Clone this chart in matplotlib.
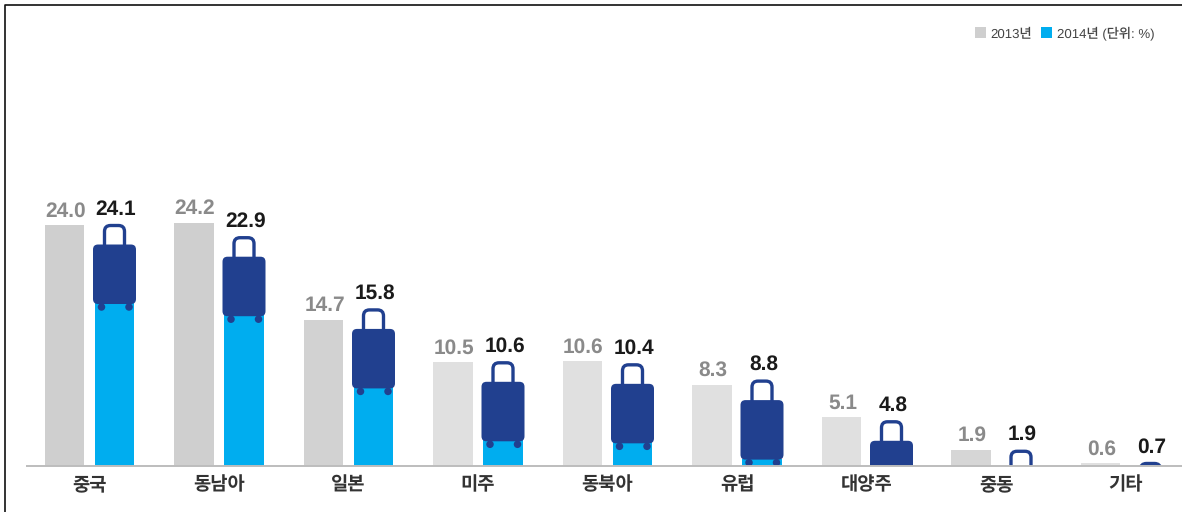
import matplotlib
matplotlib.use("Agg")
import matplotlib.pyplot as plt
from matplotlib.patches import FancyBboxPatch, Ellipse, Rectangle

categories = ["중국", "동남아", "일본", "미주", "동북아", "유럽", "대양주", "중동", "기타"]
values_2013 = [24.0, 24.2, 14.7, 10.5, 10.6, 8.3, 5.1, 1.9, 0.6]
values_2014 = [24.1, 22.9, 15.8, 10.6, 10.4, 8.8, 4.8, 1.9, 0.7]
colors_2013 = ["#cfcfcf", "#cfcfcf", "#d2d2d2", "#e0e0e0", "#e0e0e0", "#e0e0e0", "#e0e0e0", "#d6d6d6", "#e0e0e0"]

plt.rcParams["text.hinting"] = "none"
FONT = ["Liberation Sans", "Noto Sans CJK KR"]
PXX = 129.5   # pixels per category
PXY = 10.17   # pixels per value unit
X0 = 89.5
BASE = 466.0
V0 = 0.305    # value at which the source's baseline sits
W, H = 1182, 512

fig = plt.figure(figsize=(W / 100, H / 100), dpi=100, facecolor="white")
ax = fig.add_axes([0, 0, 1, 1])
ax.set_xlim(-X0 / PXX, (W - X0) / PXX)
ax.set_ylim(V0 - (H - BASE) / PXY, V0 + BASE / PXY)
ax.axis("off")

dx = lambda p: p / PXX
dy = lambda p: p / PXY
aspect = PXX / PXY
NAVY = "#21408f"
BLUE = "#00adef"
clip = Rectangle((-2, V0), 12, 60, transform=ax.transData)

for i, (a, b) in enumerate(zip(values_2013, values_2014)):
    xa = i - dx(25)
    xb = i + dx(25)
    ax.bar(xa, a - V0, bottom=V0, width=dx(39.5), color=colors_2013[i], zorder=2)
    ax.text(xa + dx(1), a + dy(8.5), f"{a:.1f}", ha="center", va="baseline", fontsize=15,
            fontweight="bold", color="#8a8a8a", family=FONT)
    ax.text(xb + dx(1.5), b + dy(9.5), f"{b:.1f}", ha="center", va="baseline", fontsize=15,
            fontweight="bold", color="#1a1a1a", family=FONT)
    # blue column below the suitcase
    ax.bar(xb, max(b - dy(79) - V0, 0), bottom=V0, width=dx(39.5), color=BLUE, zorder=2)
    # suitcase: handle, body, wheels, anchored on the 2014 value
    handle = FancyBboxPatch((xb - dx(10), b - dy(30)), dx(20), dy(28.5),
                            boxstyle=f"round,pad=0,rounding_size={dx(6)}", mutation_aspect=aspect,
                            fc="none", ec=NAVY, lw=2.4, zorder=3)
    body = FancyBboxPatch((xb - dx(21.5), b - dy(80)), dx(43), dy(59.5),
                          boxstyle=f"round,pad=0,rounding_size={dx(5)}", mutation_aspect=aspect,
                          fc=NAVY, ec="none", zorder=4)
    w1 = Ellipse((xb - dx(13), b - dy(83)), dx(7.5), dy(7.5), fc=NAVY, ec="none", zorder=4)
    w2 = Ellipse((xb + dx(14.5), b - dy(83)), dx(7.5), dy(7.5), fc=NAVY, ec="none", zorder=4)
    for p in (handle, body, w1, w2):
        ax.add_patch(p)
        p.set_clip_path(clip)
    ax.text(i, V0 - dy(18.5), categories[i], ha="center", va="center", fontsize=13.5,
            fontweight="bold", color="#333333", family=["Noto Sans CJK KR"])

ax.plot([dx(26 - X0), dx(W - X0)], [V0, V0], color="#bdbdbd", lw=1.4, zorder=5, solid_capstyle="butt")

# legend
fig.add_artist(Rectangle((975 / W, 1 - 38 / H), 11 / W, 11 / H, transform=fig.transFigure, fc="#cfcfcf", ec="none"))
fig.add_artist(Rectangle((1041 / W, 1 - 38 / H), 11 / W, 11 / H, transform=fig.transFigure, fc=BLUE, ec="none"))
fig.text(990 / W, 1 - 37 / H, "2013년", ha="left", va="baseline", fontsize=9.5, color="#444444", family=FONT)
fig.text(1057 / W, 1 - 37 / H, "2014년 (단위: %)", ha="left", va="baseline", fontsize=9.5, color="#444444", family=FONT)

# frame
fig.add_artist(plt.Line2D([5 / W, 5 / W, 1], [0, 1 - 4.5 / H, 1 - 4.5 / H], transform=fig.transFigure,
                          color="#111111", lw=1.2))

fig.savefig("out.png", dpi=100)
